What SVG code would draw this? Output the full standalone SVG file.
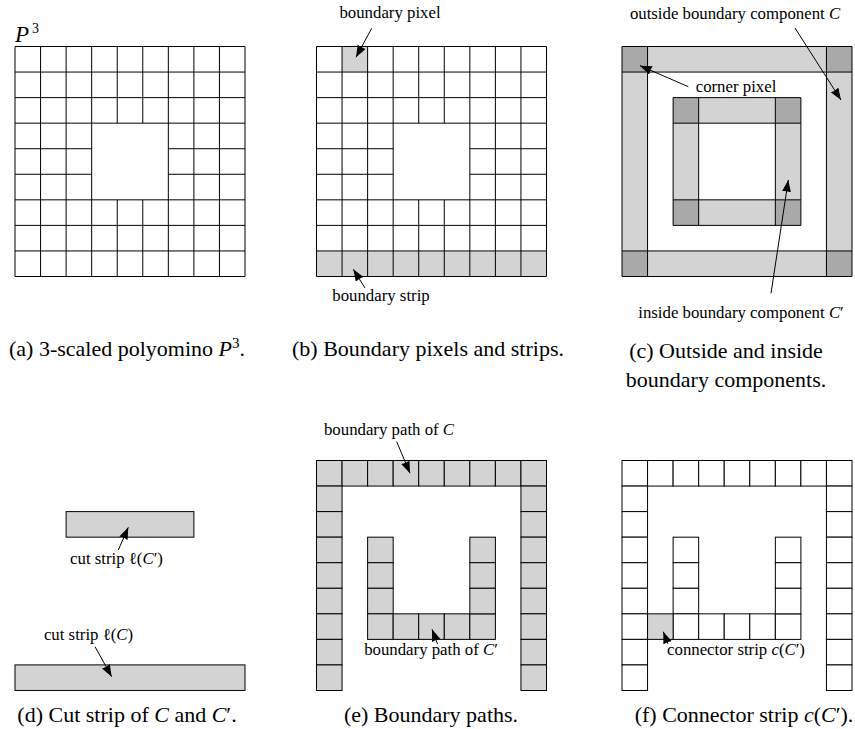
<svg xmlns="http://www.w3.org/2000/svg" xmlns:xlink="http://www.w3.org/1999/xlink" width="855" height="729" viewBox="0 0 855 729">
<style>
.g{fill:#d3d3d3;stroke:#000;stroke-width:1}
.w{fill:#fff;stroke:#000;stroke-width:1}
.d{fill:#a9a9a9;stroke:none}
.lf{fill:#d3d3d3;stroke:none}
.ln{fill:none;stroke:#000;stroke-width:1}
.ar{fill:none;stroke:#000;stroke-width:1;marker-end:url(#ah)}
text{font-family:"Liberation Serif","Times New Roman",serif;fill:#000}
.lbl{font-size:16.8px;text-anchor:middle}
.cap{font-size:22px;text-anchor:middle}
.it{font-style:italic}
</style>
<defs>
<marker id="ah" markerUnits="userSpaceOnUse" markerWidth="14" markerHeight="10" refX="12" refY="4.5" orient="auto">
<path d="M0,0 L12,4.5 L0,9 Q1.5,4.5 0,0 Z" fill="#000"/>
</marker>
<path id="grid" d="M0 0H230V230H0Z M0 25.56H230 M0 51.11H230 M0 76.67H230 M0 153.33H230 M0 178.89H230 M0 204.44H230 M0 102.22H76.67 M153.33 102.22H230 M0 127.78H76.67 M153.33 127.78H230 M25.56 0V230 M51.11 0V230 M76.67 0V230 M153.33 0V230 M178.89 0V230 M204.44 0V230 M102.22 0V76.67 M102.22 153.33V230 M127.78 0V76.67 M127.78 153.33V230"/>
</defs>
<rect width="855" height="729" fill="#fff"/>

<g id="panel-a">
<text x="15" y="42" font-size="23" class="it">P</text><text x="32" y="33" font-size="14">3</text>
<use xlink:href="#grid" href="#grid" x="15" y="46.5" class="ln"/>
<text class="cap" x="127" y="356">(a) 3-scaled polyomino <tspan class="it">P</tspan><tspan dy="-8" font-size="15">3</tspan><tspan dy="8">.</tspan></text>
</g>

<g id="panel-b">
<g transform="translate(316.5,46.5)">
<rect class="lf" x="25.56" y="0" width="25.56" height="25.56"/>
<rect class="lf" x="0" y="204.44" width="230" height="25.56"/>
<use xlink:href="#grid" href="#grid" class="ln"/>
</g>
<text class="lbl" x="390" y="18">boundary pixel</text>
<text class="lbl" x="381" y="301">boundary strip</text>
<text class="cap" x="428" y="356">(b) Boundary pixels and strips.</text>
</g>

<g id="panel-c">
<g transform="translate(622,46.5)">
<rect class="lf" x="0" y="0" width="230" height="230"/>
<rect fill="#fff" x="25.56" y="25.56" width="178.88" height="178.88"/>
<rect class="d" x="0" y="0" width="25.56" height="25.56"/>
<rect class="d" x="204.44" y="0" width="25.56" height="25.56"/>
<rect class="d" x="0" y="204.44" width="25.56" height="25.56"/>
<rect class="d" x="204.44" y="204.44" width="25.56" height="25.56"/>
<path class="ln" d="M0 0H230V230H0Z M0 25.56H230 M0 204.44H230 M25.56 0V230 M204.44 0V230"/>
<rect class="lf" x="51.11" y="51.11" width="127.78" height="127.78"/>
<rect fill="#fff" x="76.67" y="76.67" width="76.66" height="76.66"/>
<rect class="d" x="51.11" y="51.11" width="25.56" height="25.56"/>
<rect class="d" x="153.33" y="51.11" width="25.56" height="25.56"/>
<rect class="d" x="51.11" y="153.33" width="25.56" height="25.56"/>
<rect class="d" x="153.33" y="153.33" width="25.56" height="25.56"/>
<path class="ln" d="M51.11 51.11H178.89V178.89H51.11Z M51.11 76.67H178.89 M51.11 153.33H178.89 M76.67 51.11V178.89 M153.33 51.11V178.89"/>
</g>
<text class="lbl" x="735" y="19">outside boundary component <tspan class="it">C</tspan></text>
<text class="lbl" x="736" y="92">corner pixel</text>
<text class="lbl" x="741" y="318">inside boundary component <tspan class="it">C</tspan>′</text>
<text class="cap" x="726" y="358">(c) Outside and inside</text>
<text class="cap" x="726" y="387">boundary components.</text>
</g>

<g id="panel-d">
<rect class="g" x="66.1" y="511.6" width="127.8" height="25.56"/>
<rect class="g" x="15" y="664.9" width="230" height="25.56"/>
<text class="lbl" x="116.5" y="564">cut strip ℓ(<tspan class="it">C</tspan>′)</text>
<text class="lbl" x="88.5" y="640">cut strip ℓ(<tspan class="it">C</tspan>)</text>
<text class="cap" x="127" y="722">(d) Cut strip of <tspan class="it">C</tspan> and <tspan class="it">C</tspan>′.</text>
</g>

<g id="panel-e">
<g transform="translate(316.5,460.5)" class="g">
<rect x="0" y="0" width="25.56" height="25.56"/><rect x="25.56" y="0" width="25.56" height="25.56"/><rect x="51.11" y="0" width="25.56" height="25.56"/><rect x="76.67" y="0" width="25.56" height="25.56"/><rect x="102.22" y="0" width="25.56" height="25.56"/><rect x="127.78" y="0" width="25.56" height="25.56"/><rect x="153.33" y="0" width="25.56" height="25.56"/><rect x="178.89" y="0" width="25.56" height="25.56"/><rect x="204.44" y="0" width="25.56" height="25.56"/>
<rect x="0" y="25.56" width="25.56" height="25.56"/><rect x="0" y="51.11" width="25.56" height="25.56"/><rect x="0" y="76.67" width="25.56" height="25.56"/><rect x="0" y="102.22" width="25.56" height="25.56"/><rect x="0" y="127.78" width="25.56" height="25.56"/><rect x="0" y="153.33" width="25.56" height="25.56"/><rect x="0" y="178.89" width="25.56" height="25.56"/><rect x="0" y="204.44" width="25.56" height="25.56"/>
<rect x="204.44" y="25.56" width="25.56" height="25.56"/><rect x="204.44" y="51.11" width="25.56" height="25.56"/><rect x="204.44" y="76.67" width="25.56" height="25.56"/><rect x="204.44" y="102.22" width="25.56" height="25.56"/><rect x="204.44" y="127.78" width="25.56" height="25.56"/><rect x="204.44" y="153.33" width="25.56" height="25.56"/><rect x="204.44" y="178.89" width="25.56" height="25.56"/><rect x="204.44" y="204.44" width="25.56" height="25.56"/>
<rect x="51.11" y="76.67" width="25.56" height="25.56"/><rect x="51.11" y="102.22" width="25.56" height="25.56"/><rect x="51.11" y="127.78" width="25.56" height="25.56"/><rect x="51.11" y="153.33" width="25.56" height="25.56"/>
<rect x="76.67" y="153.33" width="25.56" height="25.56"/><rect x="102.22" y="153.33" width="25.56" height="25.56"/><rect x="127.78" y="153.33" width="25.56" height="25.56"/><rect x="153.33" y="153.33" width="25.56" height="25.56"/>
<rect x="153.33" y="76.67" width="25.56" height="25.56"/><rect x="153.33" y="102.22" width="25.56" height="25.56"/><rect x="153.33" y="127.78" width="25.56" height="25.56"/>
</g>
<text class="lbl" x="389" y="435">boundary path of <tspan class="it">C</tspan></text>
<text class="lbl" x="431" y="655">boundary path of <tspan class="it">C</tspan>′</text>
<text class="cap" x="431" y="722">(e) Boundary paths.</text>
</g>

<g id="panel-f">
<g transform="translate(622,460.5)" class="w">
<rect x="0" y="0" width="25.56" height="25.56"/><rect x="25.56" y="0" width="25.56" height="25.56"/><rect x="51.11" y="0" width="25.56" height="25.56"/><rect x="76.67" y="0" width="25.56" height="25.56"/><rect x="102.22" y="0" width="25.56" height="25.56"/><rect x="127.78" y="0" width="25.56" height="25.56"/><rect x="153.33" y="0" width="25.56" height="25.56"/><rect x="178.89" y="0" width="25.56" height="25.56"/><rect x="204.44" y="0" width="25.56" height="25.56"/>
<rect x="0" y="25.56" width="25.56" height="25.56"/><rect x="0" y="51.11" width="25.56" height="25.56"/><rect x="0" y="76.67" width="25.56" height="25.56"/><rect x="0" y="102.22" width="25.56" height="25.56"/><rect x="0" y="127.78" width="25.56" height="25.56"/><rect x="0" y="153.33" width="25.56" height="25.56"/><rect x="0" y="178.89" width="25.56" height="25.56"/><rect x="0" y="204.44" width="25.56" height="25.56"/>
<rect x="204.44" y="25.56" width="25.56" height="25.56"/><rect x="204.44" y="51.11" width="25.56" height="25.56"/><rect x="204.44" y="76.67" width="25.56" height="25.56"/><rect x="204.44" y="102.22" width="25.56" height="25.56"/><rect x="204.44" y="127.78" width="25.56" height="25.56"/><rect x="204.44" y="153.33" width="25.56" height="25.56"/><rect x="204.44" y="178.89" width="25.56" height="25.56"/><rect x="204.44" y="204.44" width="25.56" height="25.56"/>
<rect x="51.11" y="76.67" width="25.56" height="25.56"/><rect x="51.11" y="102.22" width="25.56" height="25.56"/><rect x="51.11" y="127.78" width="25.56" height="25.56"/><rect x="51.11" y="153.33" width="25.56" height="25.56"/>
<rect x="76.67" y="153.33" width="25.56" height="25.56"/><rect x="102.22" y="153.33" width="25.56" height="25.56"/><rect x="127.78" y="153.33" width="25.56" height="25.56"/><rect x="153.33" y="153.33" width="25.56" height="25.56"/>
<rect x="153.33" y="76.67" width="25.56" height="25.56"/><rect x="153.33" y="102.22" width="25.56" height="25.56"/><rect x="153.33" y="127.78" width="25.56" height="25.56"/>
<rect class="g" x="25.56" y="153.33" width="25.56" height="25.56"/>
</g>
<text class="lbl" x="736" y="655">connector strip <tspan class="it">c</tspan>(<tspan class="it">C</tspan>′)</text>
<text class="cap" x="744" y="722">(f) Connector strip <tspan class="it">c</tspan>(<tspan class="it">C</tspan>′).</text>
</g>

<g id="connectors">
<path class="ar" d="M371.7 28.3L356 57.3"/>
<path class="ar" d="M365 288L353.3 269.3"/>
<path class="ar" d="M795 28L841 100"/>
<path class="ar" d="M688.3 86.7L640 65.7"/>
<path class="ar" d="M771 293.3L788.3 180"/>
<path class="ar" d="M118.3 550L128.3 527.3"/>
<path class="ar" d="M95 646.7L111.7 676.7"/>
<path class="ar" d="M396.7 441.7L410 473.3"/>
<path class="ar" d="M437.5 644L432 629.3"/>
<path class="ar" d="M668 644L663.3 631.7"/>
</g>
</svg>
